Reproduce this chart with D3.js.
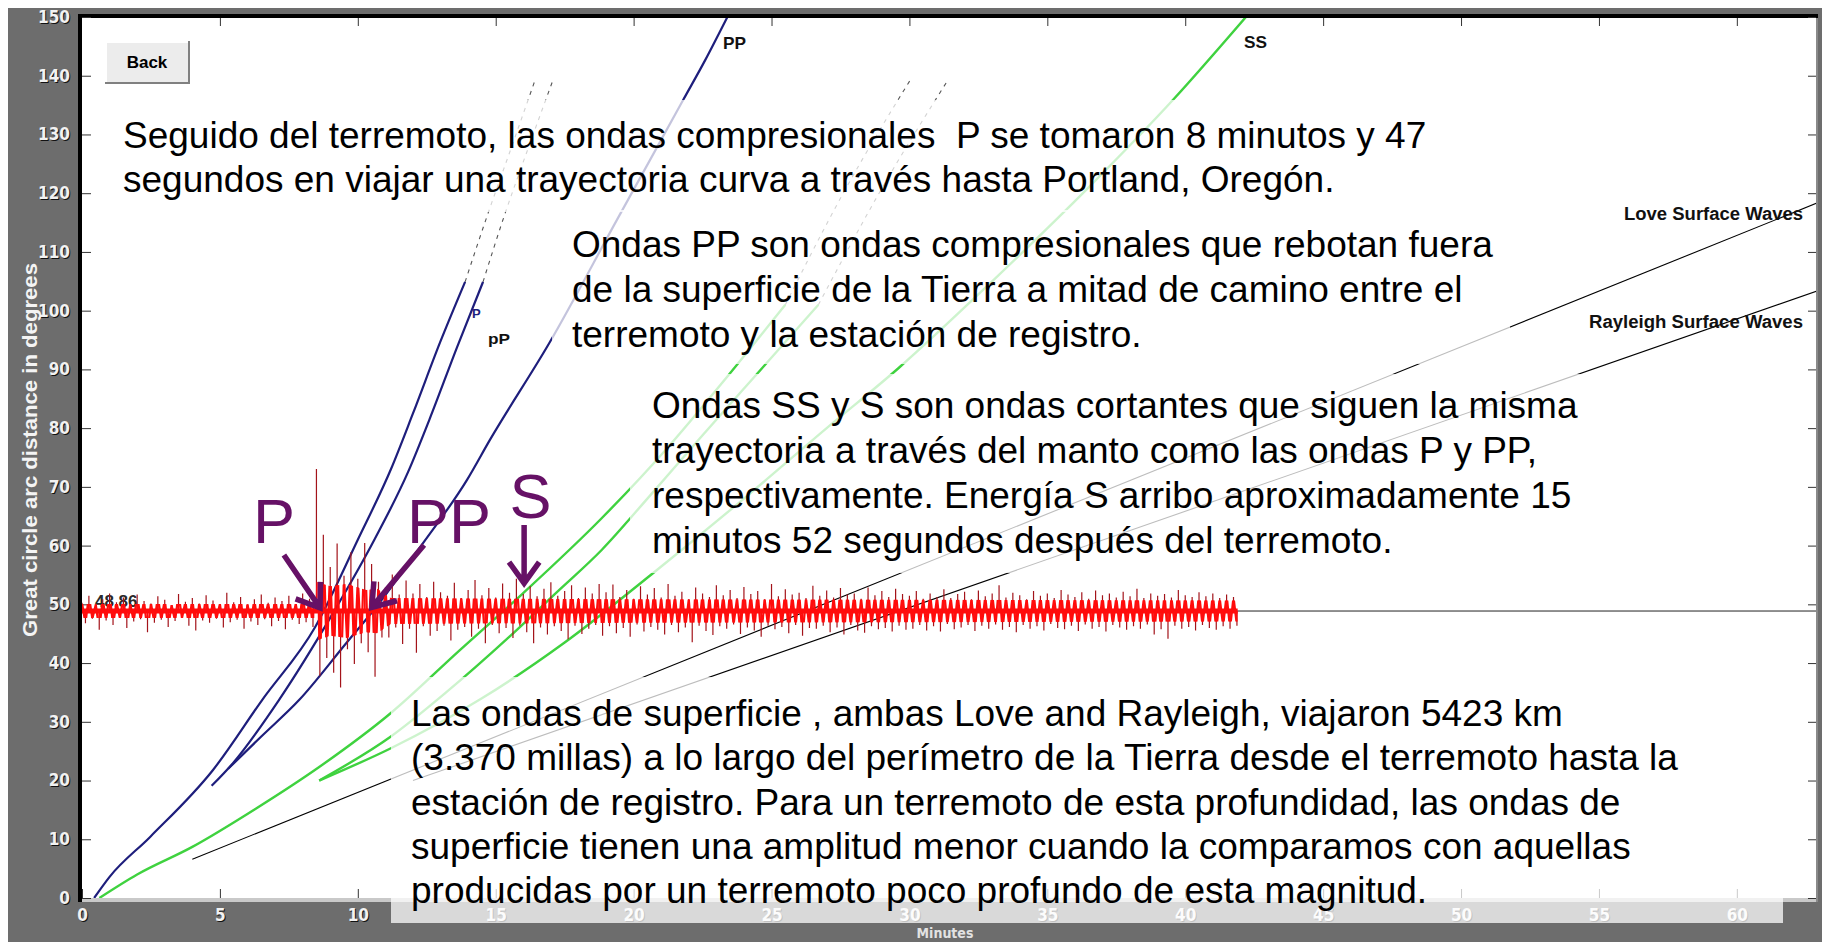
<!DOCTYPE html>
<html><head><meta charset="utf-8">
<script src="https://cdn.jsdelivr.net/npm/d3@7"></script>
<style>body{margin:0;background:#6d6d6d;overflow:hidden}svg{display:block}</style>
</head><body>
<svg id="c" width="1822" height="942"></svg>
<script>
// ---------- data (minutes, degrees) ----------
const xTicks = [0,5,10,15,20,25,30,35,40,45,50,55,60];
const yTicks = [0,10,20,30,40,50,60,70,80,90,100,110,120,130,140,150];
const curveP  = [[0.44,0],[1.0,3.6],[2.47,10.4],[4.75,21.8],[6.53,33.7],[8.45,46.1],[10.0,61.0],[11.2,73.0],[12.0,82.5],[13.0,94.8],[13.89,104.9]];
const curvepP = [[4.7,19.1],[5.48,23.0],[7.14,33.7],[9.1,48.5],[10.6,61.0],[11.82,72.5],[12.6,81.5],[13.6,93.8],[14.54,104.9]];
const curvePP = [[5.3,22],[6.5,27.5],[7.87,33.7],[9.6,43.5],[10.55,48.86],[12.3,60],[13.96,71.2],[14.79,78],[16.97,94.7],[19.4,115.5],[21.8,135.9],[22.6,142.7],[23.4,150]];
const curvePdiff  = [[13.89,104.9],[14.68,116],[15.63,128.6],[16.43,139.3]];
const curvepPdiff = [[14.54,104.9],[15.3,116],[16.25,128.6],[17.08,139.3]];
const curveS  = [[0.63,0],[2.0,4.0],[4.0,8.7],[6.3,15.2],[8.6,22.3],[11.2,31.5],[13.7,42.2],[15.9,51.5],[18.85,64.7],[21.2,76.5],[23.4,88.8],[25.5,101]];
const curvesS = [[8.6,20],[11.2,27.5],[13.2,35],[15.5,44.5],[17.2,52],[18.85,59.3],[20.5,68.0],[22.5,78.8],[24.6,89.9],[26.7,101]];
const curveSS = [[8.6,20],[11.2,25.5],[14.5,34],[17.5,43.5],[20.7,55.3],[24.0,68.0],[27.0,80],[29.6,90.2],[33.0,105],[36.5,121],[39.56,135.9],[42.2,150]];
const curveSdiff  = [[25.5,101],[27.6,120],[30.1,139.8]];
const curvesSdiff = [[26.7,101],[28.9,120],[31.4,139.3]];
const curveLove     = [[4.0,6.6],[63.0,118.5]];
const curveRayleigh = [[12.0,20.0],[63.0,103.5]];

// seismogram: station distance, sample step (min), upper / lower peak excursions (deg)
const seisDist = 48.86;
const seisStep = 0.25;
const seisHi = [
 1.4,2.6,1.1,2.0,3.0,1.5,2.3,1.2,2.8,1.7,1.3,2.5,1.9,1.0,2.9,1.6,2.2,1.3,2.7,1.8,1.2,3.1,1.5,2.4,1.1,2.0,2.8,1.4,2.3,1.7,2.6,1.2,3.0,2.1,
 24.2,13.0,7.5,11.5,6.0,10.0,5.5,11.6,8.0,5.0,
 4.0,6.2,2.8,5.2,3.0,4.6,2.4,5.0,3.2,2.6,4.8,2.2,3.6,5.3,2.7,3.9,2.3,4.7,3.1,5.5,2.9,4.2,2.5,3.8,4.9,2.6,3.4,4.4,2.2,4.0,3.0,4.6,
 3.2,4.5,2.4,3.6,2.1,4.2,2.8,3.9,2.3,4.6,2.6,3.3,2.0,4.0,3.0,2.4,4.4,2.7,3.6,2.2,4.1,2.9,3.4,2.0,4.6,2.5,3.7,2.8,3.1,2.2,4.3,2.6,3.5,2.3,3.9,2.8,3.0,2.1,4.0,2.7,3.4,2.4,3.8,2.9,
 2.6,3.4,2.1,3.0,2.4,3.7,2.2,2.9,3.3,2.0,3.5,2.5,3.0,4.4,2.3,3.1,2.7,2.0,3.4,2.6,3.0,2.2,3.6,2.8,2.4,3.2,2.1,3.5,2.7,3.0,2.3,3.3,2.5,3.8,2.2,3.0,2.6,2.9,2.3,3.6,2.7,2.4,3.2,2.5,3.0,2.2,2.8,2.4];
const seisLo = [
 2.1,1.3,3.2,1.6,2.4,1.2,2.9,1.8,1.4,3.6,2.0,1.5,2.7,1.7,1.2,2.5,3.3,1.6,2.0,1.3,2.8,1.9,1.5,3.0,1.8,2.4,1.4,2.6,1.7,3.1,1.5,2.2,1.9,2.7,
 11.0,8.0,10.5,13.0,6.5,9.0,5.5,7.0,11.2,4.5,
 4.5,2.8,5.6,3.0,7.1,2.6,4.2,3.4,2.5,5.0,3.2,2.7,4.4,3.0,5.5,2.4,3.8,2.9,4.6,2.5,3.6,5.5,2.8,4.0,2.6,3.4,4.8,2.5,3.9,3.0,2.4,4.2,
 2.6,3.8,2.9,4.4,2.3,3.5,2.7,3.2,4.0,2.4,3.6,2.8,5.3,2.5,3.4,4.1,2.6,3.0,2.3,3.9,2.8,3.3,4.4,2.5,3.1,2.7,3.8,2.4,4.2,2.9,3.0,2.5,3.6,2.8,4.0,2.4,3.3,3.7,2.6,3.1,2.9,3.5,2.5,3.2,
 3.0,2.4,3.3,2.6,3.5,2.2,3.1,2.8,2.4,3.4,2.5,3.0,2.3,3.2,2.7,3.6,2.4,3.0,2.6,3.3,2.2,2.9,3.1,2.5,3.4,2.3,3.0,2.7,3.5,2.4,2.8,3.2,2.6,3.0,2.3,4.0,3.1,4.7,2.5,3.0,2.7,3.3,2.4,2.9,3.2,2.6,3.0,2.5];
// half-width of the dense bright core of the trace (min, deg)
const seisCore = [[0,1.2],[8.45,1.2],[8.5,5.0],[9.0,4.2],[9.6,4.6],[10.3,3.6],[10.7,3.8],[11.2,2.2],[20,2.0],[41.9,1.8]];

// annotations
const arrowsData = [
  {label:"P",  at:[6.2,60.4],  tail:[7.32,58.4], tip:[8.63,49.4]},
  {label:"PP", at:[11.78,60.4],tail:[12.4,60.1], tip:[10.51,49.5]},
  {label:"S",  at:[15.5,64.7], tail:[16.03,63.5],tip:[16.03,53.6]}
];
const text1 = ["Seguido del terremoto, las ondas compresionales\u00a0 P se tomaron 8 minutos y 47",
               "segundos en viajar una trayectoria curva a trav\u00e9s hasta Portland, Oreg\u00f3n."];
const text2 = ["Ondas PP son ondas compresionales que rebotan fuera",
               "de la superficie de la Tierra a mitad de camino entre el",
               "terremoto y la estaci\u00f3n de registro."];
const text3 = ["Ondas SS y S son ondas cortantes que siguen la misma",
               "trayectoria a trav\u00e9s del manto como las ondas P y PP,",
               "respectivamente. Energ\u00eda S arribo aproximadamente 15",
               "minutos 52 segundos despu\u00e9s del terremoto."];
const text5 = ["Las ondas de superficie , ambas Love and Rayleigh, viajaron 5423 km",
               "(3.370 millas) a lo largo del per\u00edmetro de la Tierra desde el terremoto hasta la",
               "estaci\u00f3n de registro. Para un terremoto de esta profundidad, las ondas de",
               "superficie tienen una amplitud menor cuando la comparamos con aquellas",
               "producidas por un terremoto poco profundo de esta magnitud."];

// ---------- drawing ----------
const W = 1822, H = 942;
const svg = d3.select("#c");
const x = d3.scaleLinear().domain([0,62.87]).range([82,1816]);
const y = d3.scaleLinear().domain([0,150]).range([898,17]);
const SANS = "'Liberation Sans', Arial, sans-serif";
const COND = "'DejaVu Sans Condensed', 'DejaVu Sans', sans-serif";

svg.append("rect").attr("width",W).attr("height",H).attr("fill","#6d6d6d");
svg.append("rect").attr("width",W).attr("height",8).attr("fill","#ffffff");
svg.append("rect").attr("width",8).attr("height",H).attr("fill","#ffffff");
svg.append("rect").attr("x",82).attr("y",17).attr("width",1734).attr("height",881).attr("fill","#ffffff");
svg.append("rect").attr("x",82).attr("y",898).attr("width",1736).attr("height",4).attr("fill","#c9c9c9");
svg.append("line").attr("x1",1817).attr("x2",1817).attr("y1",17).attr("y2",902).attr("stroke","#8a8a8a").attr("stroke-width",2);
svg.append("line").attr("x1",80).attr("x2",80).attr("y1",14).attr("y2",902).attr("stroke","#000").attr("stroke-width",4);
svg.append("line").attr("x1",78).attr("x2",1818).attr("y1",16).attr("y2",16).attr("stroke","#000").attr("stroke-width",4);

const defs = svg.append("defs");
defs.append("clipPath").attr("id","plot")
  .append("rect").attr("x",82).attr("y",18).attr("width",1734).attr("height",880);

// axes (tick marks + labels, labels with a dark drop shadow)
function styleTicks(g){ g.select(".domain").remove(); g.selectAll(".tick line").attr("stroke","#333"); }
function styleLabels(sel,fill){ sel.attr("fill",fill).attr("font-family",COND).attr("font-weight","bold").attr("font-size",17); }
svg.append("g").attr("transform","translate(83,1)")
  .call(d3.axisLeft(y).tickValues(yTicks).tickSize(0).tickPadding(12))
  .call(g=>g.select(".domain").remove())
  .selectAll("text").call(styleLabels,"#111");
svg.append("g").attr("transform","translate(1,899)")
  .call(d3.axisBottom(x).tickValues(xTicks).tickSize(0).tickPadding(11))
  .call(g=>g.select(".domain").remove())
  .selectAll("text").call(styleLabels,"#111");
svg.append("g").attr("transform","translate(82,0)")
  .call(d3.axisLeft(y).tickValues(yTicks).tickSizeInner(-9).tickSizeOuter(0).tickPadding(12))
  .call(styleTicks)
  .selectAll("text").call(styleLabels,"#f2f2f2");
svg.append("g").attr("transform","translate(0,898)")
  .call(d3.axisBottom(x).tickValues(xTicks).tickSizeInner(-9).tickSizeOuter(0).tickPadding(11))
  .call(styleTicks)
  .selectAll("text").call(styleLabels,"#f2f2f2");
svg.append("g").attr("transform","translate(1816,0)")
  .call(d3.axisLeft(y).tickValues(yTicks).tickSizeInner(8).tickSizeOuter(0).tickFormat(""))
  .call(styleTicks);
svg.append("g").attr("transform","translate(0,18)")
  .call(d3.axisTop(x).tickValues(xTicks.filter(v=>v>0)).tickSizeInner(-8).tickSizeOuter(0).tickFormat(""))
  .call(styleTicks);

svg.append("text").attr("transform","translate(37,450) rotate(-90)").attr("text-anchor","middle")
  .attr("font-family",SANS).attr("font-weight","bold").attr("font-size",21).attr("fill","#f4f4f4")
  .attr("textLength",374).attr("lengthAdjust","spacingAndGlyphs")
  .text("Great circle arc distance in degrees");
svg.append("text").attr("x",945).attr("y",938).attr("text-anchor","middle")
  .attr("font-family",COND).attr("font-weight","bold").attr("font-size",14).attr("fill","#e2e2e2").text("Minutes");

// travel-time curves
const plot = svg.append("g").attr("clip-path","url(#plot)");
const line = d3.line().x(d=>x(d[0])).y(d=>y(d[1])).curve(d3.curveMonotoneX);
const straight = d3.line().x(d=>x(d[0])).y(d=>y(d[1]));
const NAVY = "#1e1e7c", GREEN = "#3fd23f";
plot.append("path").attr("d",straight([[0,seisDist],[62.87,seisDist]])).attr("stroke","#222").attr("stroke-width",1).attr("fill","none");
[curveLove,curveRayleigh].forEach(c=>
  plot.append("path").attr("d",straight(c)).attr("stroke","#000").attr("stroke-width",1.1).attr("fill","none"));
[curvePdiff,curvepPdiff,curveSdiff,curvesSdiff].forEach(c=>
  plot.append("path").attr("d",line(c)).attr("stroke","#555").attr("stroke-width",1.1).attr("stroke-dasharray","4,5").attr("fill","none"));
[curveS,curvesS,curveSS].forEach(c=>
  plot.append("path").attr("d",line(c)).attr("stroke",GREEN).attr("stroke-width",2.4).attr("fill","none"));
[curveP,curvepP,curvePP].forEach(c=>
  plot.append("path").attr("d",line(c)).attr("stroke",NAVY).attr("stroke-width",2.2).attr("fill","none"));

// 48.86 label
svg.append("text").attr("x",x(0.47)).attr("y",y(49.5)).attr("font-family",SANS).attr("font-weight","bold")
  .attr("font-size",17).attr("fill","#2a2a2a").text("48.86");

// seismogram: dark-red spikes to the peak excursions; the same trace drawn bright red inside the core band
const seis = svg.append("g").attr("clip-path","url(#plot)");
const coreArea = d3.area().x(d=>x(d[0])).y0(d=>y(seisDist-d[1])).y1(d=>y(seisDist+d[1]));
let spikes = "";
seisHi.forEach((h,i)=>{
  const xa = x(i*seisStep), xb = x(i*seisStep+seisStep/2);
  spikes += `M${xa},${y(seisDist)}V${y(seisDist+h)}M${xb},${y(seisDist)}V${y(seisDist-seisLo[i])}`;
});
const zig = [];
seisHi.forEach((h,i)=>{ const t=i*seisStep; zig.push([t,seisDist+h]); zig.push([t+seisStep/2,seisDist-seisLo[i]]); });
seis.append("path").attr("d",spikes).attr("stroke","#a3131a").attr("stroke-width",1.2).attr("fill","none");
defs.append("clipPath").attr("id","core").append("path").attr("d",coreArea(seisCore));
const core = seis.append("g").attr("clip-path","url(#core)");
core.append("path").attr("d",straight(zig)).attr("stroke","#ff0c0c").attr("stroke-width",2.2).attr("fill","none");
core.append("path").attr("d",spikes).attr("stroke","#ff0c0c").attr("stroke-width",1.6).attr("fill","none");
seis.append("path").attr("d",straight([[0,seisDist],[41.9,seisDist]])).attr("stroke","#ff0c0c").attr("stroke-width",5).attr("fill","none");

// curve labels
function lab(t,d,s,opt){
  const e = svg.append("text").attr("x",x(t)).attr("y",y(d)).attr("font-family",SANS).attr("font-weight","bold")
   .attr("font-size",opt.size||17).attr("fill",opt.fill||"#111").attr("text-anchor",opt.anchor||"start").text(s);
  if(opt.len) e.attr("textLength",opt.len).attr("lengthAdjust","spacingAndGlyphs");
}
lab(23.24,144.5,"PP",{size:17,len:23});
lab(42.13,144.7,"SS",{size:17,len:23});
lab(14.14,98.8,"P",{size:13,fill:NAVY});
lab(14.72,94.3,"pP",{size:14,len:22});
lab(62.4,115.4,"Love Surface Waves",{size:18,anchor:"end",len:179});
lab(62.4,97.1,"Rayleigh Surface Waves",{size:18,anchor:"end",len:214});

// translucent text boxes
const boxes = [[105,100,1355,112],[552,210,958,154],[630,374,960,199],[391,677,1392,246]];
boxes.forEach(b=>svg.append("rect").attr("x",b[0]).attr("y",b[1]).attr("width",b[2]).attr("height",b[3])
  .attr("fill","#ffffff").attr("opacity",0.74));

function para(lines,x0,base0,step){
  lines.forEach((s,i)=>svg.append("text").attr("x",x0).attr("y",base0+i*step)
    .attr("font-family",SANS).attr("font-size",37).attr("fill","#000")
    .style("white-space","pre").text(s));
}
para(text1,123,148,44);
para(text2,572,257,45);
para(text3,652,418,45);
para(text5,411,726,44.25);

// purple annotations
const PURPLE = "#661166";
arrowsData.forEach(a=>{
  svg.append("text").attr("x",x(a.at[0])).attr("y",y(a.at[1])).attr("font-family",SANS)
    .attr("font-size",63).attr("fill",PURPLE).text(a.label);
  const x0=x(a.tail[0]), y0=y(a.tail[1]), x1=x(a.tip[0]), y1=y(a.tip[1]);
  const ang=Math.atan2(y1-y0,x1-x0), L=26, h=0.62;
  const p = `M${x0},${y0}L${x1},${y1}M${x1-L*Math.cos(ang-h)},${y1-L*Math.sin(ang-h)}L${x1},${y1}L${x1-L*Math.cos(ang+h)},${y1-L*Math.sin(ang+h)}`;
  svg.append("path").attr("d",p).attr("stroke",PURPLE).attr("stroke-width",5.5).attr("fill","none");
});

// Back button
const bk = svg.append("g");
bk.append("rect").attr("x",105).attr("y",41).attr("width",84).attr("height",42).attr("fill","#ececec");
bk.append("path").attr("d","M106,82V42H188").attr("stroke","#fff").attr("stroke-width",2).attr("fill","none");
bk.append("path").attr("d","M105,83H189V41").attr("stroke","#808080").attr("stroke-width",2).attr("fill","none");
bk.append("text").attr("x",147).attr("y",68).attr("text-anchor","middle").attr("font-family",SANS)
  .attr("font-weight","bold").attr("font-size",17).attr("fill","#000").text("Back");
</script>
</body></html>
